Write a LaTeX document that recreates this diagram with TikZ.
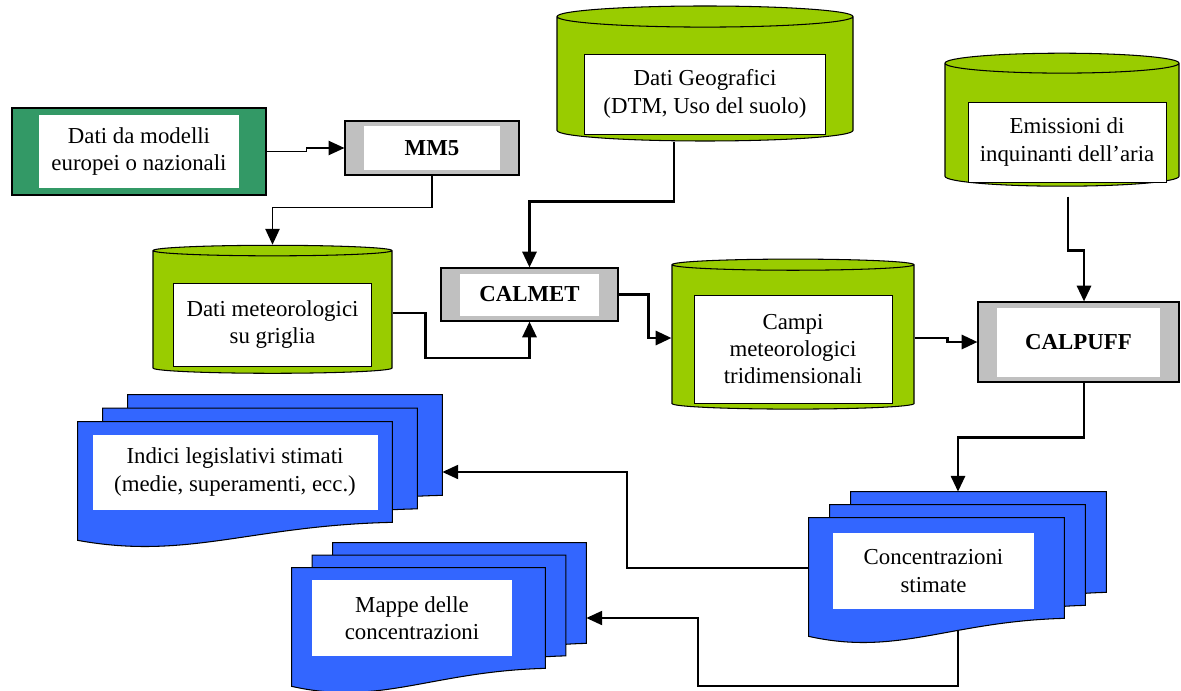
\documentclass[tikz,border=0pt]{standalone}
\usepackage{fontspec}
\setmainfont{Liberation Serif}
\usepackage{tikz}
\usetikzlibrary{arrows.meta, positioning, shapes.geometric}
\definecolor{datagreen}{RGB}{51,153,102}
\definecolor{cylgreen}{RGB}{153,204,0}
\definecolor{modelgray}{RGB}{192,192,192}
\definecolor{docblue}{RGB}{51,102,255}
\tikzset{inset/.style 2 args={path picture={\fill[white] ([shift={(#1,-#2)}]path picture bounding box.north west) rectangle ([shift={(-#1,#2)}]path picture bounding box.south east);}}}
\tikzstyle{source} = [rectangle, draw=black, line width=0.6pt, fill=datagreen, minimum width=5.08cm, minimum height=1.74cm, align=center, inset={0.54}{0.15}]
\tikzstyle{model} = [rectangle, draw=black, line width=0.6pt, fill=modelgray, minimum height=1.06cm, inset={0.38}{0.11}]
\tikzstyle{db} = [cylinder, shape border rotate=90, aspect=1, draw=black, line width=0.6pt, fill=cylgreen]
\tikzstyle{dbtext} = [rectangle, draw=black, line width=0.5pt, fill=white, align=center, minimum width=3.96cm, minimum height=1.6cm]
\tikzstyle{pagebox} = [rectangle, minimum height=2cm, inner sep=0pt]
\tikzstyle{docpage} = [draw=black, line width=0.6pt, fill=docblue]
\tikzstyle{doctext} = [rectangle, fill=white, align=center, minimum height=1.52cm]
\tikzstyle{arrow} = [line width=1.1pt, -{Triangle[length=9pt, width=8pt]}]
\tikzstyle{flow} = [arrow, line width=1.6pt]
\tikzset{
  font={\fontsize{13pt}{15.5pt}\selectfont}}

% three stacked pages with a wavy lower edge
\newcommand{\pagestack}[4]{%
  \foreach \k in {2,1,0}
    \draw[docpage] ([shift={(\k*#2,\k*#3)}]#1.north west)
      -- ([shift={(\k*#2,\k*#3)}]#1.north east)
      -- ([shift={(\k*#2,\k*#3)}]#1.south east)
      .. controls +(-0.45*#4,-0.06) and +(0.35*#4,-0.4)
      .. ([shift={(\k*#2,\k*#3-0.36)}]#1.south west) -- cycle;
}

\begin{document}
\begin{tikzpicture}[node distance = 2cm]
    \useasboundingbox (0,0) rectangle (23.62,-13.8);

    \node (dati) [source] at (2.78,-3.03) {Dati da modelli\\europei o nazionali};
    \node (mm5) [model, right of=dati, xshift=3.86cm, yshift=0.07cm, minimum width=3.48cm, minimum height=1.08cm] {\textbf{MM5}};
    \node (meteo) [db, below of=dati, xshift=2.67cm, yshift=-1.23cm, minimum width=4.78cm, minimum height=2.56cm, aspect=0.9] {};
    \node (calmet) [model, right of=meteo, xshift=3.14cm, yshift=0.37cm, minimum width=3.54cm] {\textbf{CALMET}};
    \node (geo) [db, right of=mm5, xshift=3.46cm, yshift=1.35cm, minimum width=5.92cm, minimum height=2.70cm, aspect=1.8] {};
    \node (campi) [db, right of=calmet, xshift=3.27cm, yshift=-0.87cm, minimum width=4.84cm, minimum height=3.0cm, aspect=0.95] {};
    \node (calpuff) [model, right of=campi, xshift=3.71cm, yshift=-0.08cm, minimum width=4.02cm, minimum height=1.6cm] {\textbf{CALPUFF}};
    \node (emis) [db, above of=calpuff, xshift=-0.33cm, yshift=2.31cm, minimum width=4.68cm, minimum height=2.66cm, aspect=1.7] {};
    \node (conc) [pagebox, below of=calpuff, xshift=-2.84cm, yshift=-2.52cm, minimum width=5.10cm] {};
    \node (indici) [pagebox, below of=meteo, xshift=-0.75cm, yshift=-1.18cm, minimum width=6.28cm] {};
    \node (mappe) [pagebox, below of=indici, xshift=3.67cm, yshift=-0.92cm, minimum width=5.06cm] {};

    \pagestack{indici}{0.5}{0.27}{6.28}
    \pagestack{mappe}{0.41}{0.25}{5.06}
    \pagestack{conc}{0.42}{0.26}{5.10}

    \node (geotxt) [dbtext, minimum width=4.82cm] at ([yshift=-0.27cm]geo.center) {Dati Geografici\\(DTM, Uso del suolo)};
    \node (emistxt) [dbtext] at ([shift={(0.1,-0.31)}]emis.center) {Emissioni di\\inquinanti dell'aria};
    \node (meteotxt) [dbtext, minimum height=1.66cm] at ([yshift=-0.23cm]meteo.center) {Dati meteorologici\\su griglia};
    \node (campitxt) [dbtext, minimum height=2.16cm] at ([yshift=-0.22cm]campi.center) {Campi\\meteorologici\\tridimensionali};
    \node (conctxt) [doctext, minimum width=4.02cm] at ([shift={(-0.06,-0.06)}]conc.center) {Concentrazioni\\stimate};
    \node (indicitxt) [doctext, minimum width=5.70cm, minimum height=1.5cm] at (indici.center) {Indici legislativi stimati\\(medie, superamenti, ecc.)};
    \node (mappetxt) [doctext, minimum width=4.0cm] at ([xshift=-0.13cm]mappe.center) {Mappe delle\\concentrazioni};

    \draw [arrow] (dati.east) -- ++(0.8,0) |- (mm5.west);
    \draw [arrow] (mm5.south) -- ++(0,-0.64) -| (meteo.north);
    \draw [flow] ([xshift=-0.62cm]geo.south) -- ++(0,-1.2) -| (calmet.north);
    \draw [flow] (meteo.east) -- ++(0.66,0) -- ++(0,-0.9) -| (calmet.south);
    \draw [flow] (calmet.east) -- ++(0.6,0) |- (campi.west);
    \draw [flow] (campi.east) -- ++(0.66,0) |- (calpuff.west);
    \draw [flow] ([shift={(0.12,-0.2)}]emis.south) -- ++(0,-1.08) -| ([xshift=0.11cm]calpuff.north);
    \draw [flow] ([xshift=0.11cm]calpuff.south) -- ++(0,-1.1) -| ([shift={(0.43,0.52)}]conc.north);
    \draw [arrow] (conc.west) -- ++(-3.64,0) |- ([xshift=1.0cm]indici.east);
    \draw [arrow] ([shift={(0.43,-0.24)}]conc.south) -- ++(0,-1.12) -- ++(-5.2,0) |- ([xshift=0.82cm]mappe.east);
\end{tikzpicture}
\end{document}
